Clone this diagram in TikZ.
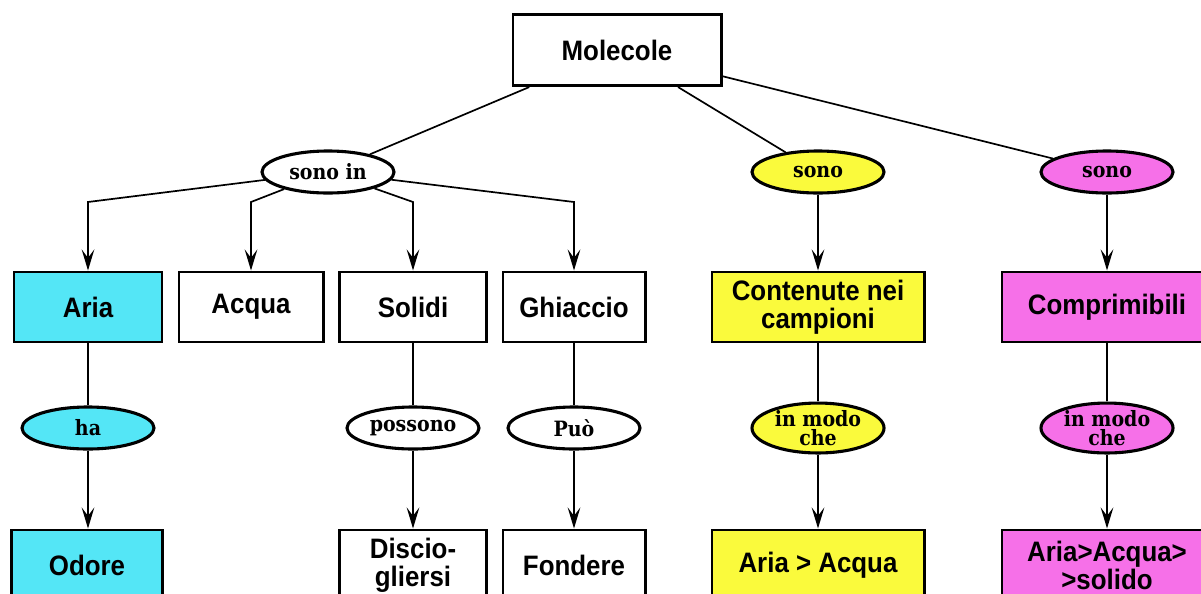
\documentclass[tikz,border=0pt]{standalone}
\usepackage{fontspec}
\newfontfamily\conceptfont[FakeStretch=0.92]{Liberation Sans}
\newfontfamily\linkfont[FakeStretch=0.9]{DejaVu Serif}
\usetikzlibrary{arrows.meta}
\usetikzlibrary{positioning}
\usetikzlibrary{shapes.geometric}

\definecolor{ariacyan}{RGB}{84,230,246}
\definecolor{campyellow}{RGB}{250,250,60}
\definecolor{compmagenta}{RGB}{246,112,232}

\tikzset{
    concept/.style={
        rectangle, draw=black, line width=2.1pt,
        fill=white, minimum height=1.75cm, inner sep=0pt,
        align=center, text=black,
        font=\conceptfont\bfseries\fontsize{20}{20}\selectfont,
    },
    link/.style={
        ellipse, draw=black, line width=2.2pt,
        fill=white, minimum width=3.3cm, minimum height=1.05cm, inner sep=0pt,
        align=center, text=black,
        font=\linkfont\bfseries\fontsize{15}{13.5}\selectfont,
    },
    conn/.style={draw=black, line width=1.2pt},
    arr/.style={conn, -{Stealth[length=15pt,width=9pt,inset=6pt]}},
}

\begin{document}
\begin{tikzpicture}[x=0.025cm, y=-0.025cm]
        \useasboundingbox (0,0) rectangle (1201,593);
        \clip (0,0) rectangle (1201,593);
        \fill[white] (0,0) rectangle (1201,593);

        % top
        \node (molecole) at(617,50) [concept, minimum width=5.2cm, minimum height=1.78cm] {Molecole};

        \node (sonoin) at(328,172) [link] {sono in};
        \node (sonoy) at(818,172) [link, fill=campyellow] {sono};
        \node (sonom) at(1107,172) [link, fill=compmagenta] {sono};

        % second row
        \node (aria) at(88,307) [concept, minimum width=3.7cm, fill=ariacyan] {Aria};
        \node (acqua) at(251,307) [concept, minimum width=3.6cm] {Acqua};
        \node (solidi) at(413,307) [concept, minimum width=3.68cm] {Solidi};
        \node (ghiaccio) at(574,307) [concept, minimum width=3.55cm] {Ghiaccio};
        \node (contenute) at(818,307) [concept, minimum width=5.3cm, fill=campyellow] {Contenute nei\\campioni};
        \node (comprimibili) at(1107,307) [concept, minimum width=5.25cm, fill=compmagenta] {Comprimibili};

        \node (ha) at(88,428) [link, fill=ariacyan] {ha};
        \node (possono) at(413,428) [link] {possono};
        \node (puo) at(574,428) [link] {Può};
        \node (modoy) at(818,428) [link, fill=campyellow] {in modo\\che};
        \node (modom) at(1107,428) [link, fill=compmagenta] {in modo\\che};

        % bottom row
        \node (odore) at(87,565) [concept, minimum width=3.78cm, fill=ariacyan] {Odore};
        \node (disciogliersi) at(413,565) [concept, minimum width=3.68cm] {Discio-\\gliersi};
        \node (fondere) at(574,565) [concept, minimum width=3.55cm] {Fondere};
        \node (ariaacqua) at(818,565) [concept, minimum width=5.3cm, fill=campyellow] {Aria > Acqua};
        \node (ariasolido) at(1107,565) [concept, minimum width=5.25cm, fill=compmagenta] {Aria>Acqua>\\>solido};

        \coordinate (fork) at(0,202);

        \draw[conn] (molecole) -- (sonoin);
        \draw[conn] (molecole) -- (sonoy);
        \draw[conn] (molecole) -- (sonom);

        \draw[arr] (sonoin) -- (aria.north |- fork) -- (aria.north);
        \draw[arr] (sonoin) -- (acqua.north |- fork) -- (acqua.north);
        \draw[arr] (sonoin) -- (solidi.north |- fork) -- (solidi.north);
        \draw[arr] (sonoin) -- (ghiaccio.north |- fork) -- (ghiaccio.north);
        \draw[arr] (sonoy) -- (sonoy |- contenute.north);
        \draw[arr] (sonom) -- (sonom |- comprimibili.north);

        \draw[conn] (aria) -- (ha);
        \draw[arr] (ha) -- (ha |- odore.north);
        \draw[conn] (solidi) -- (possono);
        \draw[arr] (possono) -- (possono |- disciogliersi.north);
        \draw[conn] (ghiaccio) -- (puo);
        \draw[arr] (puo) -- (puo |- fondere.north);
        \draw[conn] (contenute) -- (modoy);
        \draw[arr] (modoy) -- (modoy |- ariaacqua.north);
        \draw[conn] (comprimibili) -- (modom);
        \draw[arr] (modom) -- (modom |- ariasolido.north);
    \end{tikzpicture}
\end{document}
